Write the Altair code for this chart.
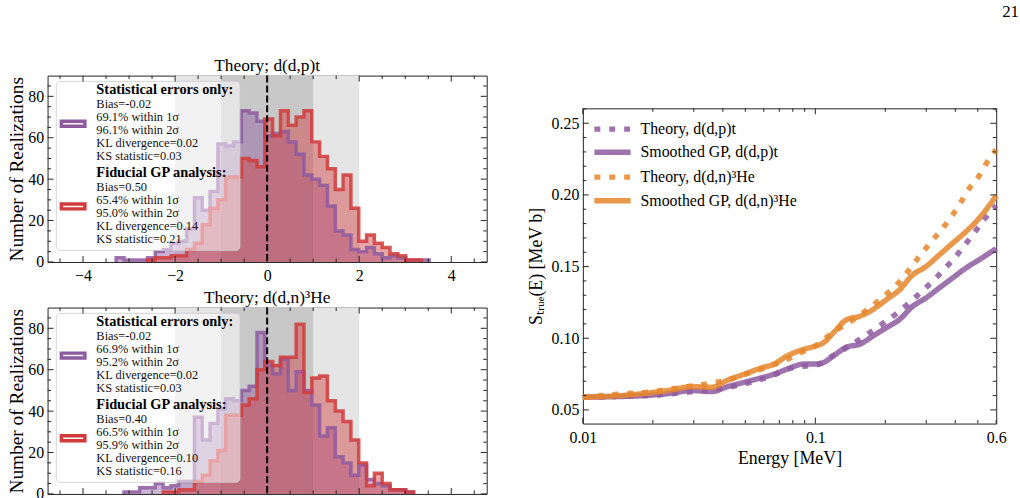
import altair as alt
import pandas as pd

FONT = "Liberation Serif"
PURPLE = "#8e5a9f"
RED = "#d13b3b"
ORANGE = "#e5862c"
FRAME = "#222222"

# ---------------------------------------------------------------------------
# Histograms of (realization - theory) / sigma, shared bin edges
# ---------------------------------------------------------------------------
BIN_START = -3.45
BIN_WIDTH = 0.17

dpt_stat_counts = [0, 2, 1, 1, 1, 2, 5, 6, 9, 10, 16, 31, 25, 34, 57, 56, 58, 73, 72, 68,
                   61, 62, 63, 58, 52, 42, 40, 37, 27, 15, 13, 6, 5, 7, 4, 2, 3, 2, 1, 1, 1]
dpt_fid_counts = [0, 0, 0, 0, 0, 1, 2, 2, 3, 3, 6, 9, 18, 26, 30, 41, 41, 50, 49, 46,
                  69, 61, 73, 66, 70, 73, 58, 51, 45, 35, 42, 26, 10, 13, 9, 7, 4, 3, 1, 1, 0]
ddn_stat_counts = [0, 0, 1, 1, 3, 3, 5, 3, 4, 6, 6, 37, 26, 34, 41, 46, 45, 50, 52, 78,
                   62, 58, 65, 50, 59, 50, 43, 28, 32, 18, 15, 9, 14, 7, 5, 4, 2, 2, 1, 0, 0]
ddn_fid_counts = [0, 0, 0, 0, 0, 0, 0, 1, 1, 2, 2, 6, 9, 16, 21, 38, 38, 43, 46, 60,
                  64, 62, 66, 66, 82, 49, 56, 57, 45, 40, 35, 26, 15, 4, 10, 5, 2, 2, 1, 0, 0]

dpt_stat_text = ["Bias=-0.02", "69.1% within 1σ", "96.1% within 2σ",
                 "KL divergence=0.02", "KS statistic=0.03"]
dpt_fid_text = ["Bias=0.50", "65.4% within 1σ", "95.0% within 2σ",
                "KL divergence=0.14", "KS statistic=0.21"]
ddn_stat_text = ["Bias=-0.02", "66.9% within 1σ", "95.2% within 2σ",
                 "KL divergence=0.02", "KS statistic=0.03"]
ddn_fid_text = ["Bias=0.40", "66.5% within 1σ", "95.9% within 2σ",
                "KL divergence=0.10", "KS statistic=0.16"]
group_headers = ["Statistical errors only:", "Fiducial GP analysis:"]

sigma_halfwidths = [2, 1]

# ---------------------------------------------------------------------------
# S-factor curves
# ---------------------------------------------------------------------------
gp_energy = [0.01, 0.0148, 0.0205, 0.0241, 0.0294, 0.0357, 0.0421, 0.0496, 0.0583,
             0.0665, 0.0757, 0.0892, 0.1, 0.1085, 0.1196, 0.1364, 0.1553, 0.1769,
             0.2016, 0.2299, 0.2619, 0.2985, 0.3401, 0.3877, 0.4418, 0.5034, 0.6]
gp_dpt = [0.0589, 0.0594, 0.0605, 0.0617, 0.0635, 0.0628, 0.0663, 0.0693, 0.0723,
          0.0750, 0.0785, 0.0820, 0.0820, 0.0831, 0.0877, 0.0939, 0.0958, 0.1015,
          0.1073, 0.1130, 0.1222, 0.1280, 0.1349, 0.1418, 0.1487, 0.1545, 0.1625]
gp_ddn = [0.0589, 0.0601, 0.0624, 0.0640, 0.0663, 0.0658, 0.0709, 0.0750, 0.0792,
          0.0820, 0.0877, 0.0923, 0.0946, 0.0969, 0.1038, 0.1130, 0.1153, 0.1200,
          0.1268, 0.1337, 0.1441, 0.1499, 0.1579, 0.1660, 0.1740, 0.1832, 0.1994]

th_dpt_energy = [0.01, 0.0148, 0.0205, 0.0284, 0.0394, 0.0547, 0.0665, 0.0757, 0.0892,
                 0.1016, 0.1196, 0.1364, 0.1553, 0.1769, 0.2016, 0.2299, 0.2619, 0.2891,
                 0.3240, 0.3609, 0.4007, 0.4418, 0.4875, 0.5377, 0.6]
th_dpt = [0.0589, 0.0596, 0.0603, 0.0625, 0.0650, 0.0700, 0.0745, 0.0785, 0.0805,
          0.0815, 0.0880, 0.0935, 0.0992, 0.1054, 0.1119, 0.1188, 0.1268, 0.1331,
          0.1407, 0.1487, 0.1568, 0.1655, 0.1745, 0.1837, 0.1925]

th_ddn_energy = [0.01, 0.0148, 0.0192, 0.0226, 0.0284, 0.0357, 0.0421, 0.0512, 0.0623,
                 0.0757, 0.0863, 0.0984, 0.1121, 0.1278, 0.1456, 0.1687, 0.1891, 0.2120,
                 0.2377, 0.2619, 0.2891, 0.3188, 0.3516, 0.3877, 0.4208, 0.4566, 0.5034,
                 0.5465, 0.6]
th_ddn = [0.0589, 0.0612, 0.0624, 0.0640, 0.0663, 0.0686, 0.0709, 0.0755, 0.0801,
          0.0854, 0.0900, 0.0939, 0.1008, 0.1073, 0.1130, 0.1204, 0.1268, 0.1337,
          0.1418, 0.1510, 0.1598, 0.1683, 0.1763, 0.1855, 0.1943, 0.2040, 0.2127,
          0.2224, 0.2316]

series_names = ["Theory, d(d,p)t", "Smoothed GP, d(d,p)t",
                "Theory, d(d,n)³He", "Smoothed GP, d(d,n)³He"]

# ---------------------------------------------------------------------------
# Layout constants
# ---------------------------------------------------------------------------
HW, HH = 443, 188
RW, RH = 417, 318
Y_MAX = 90
MAJOR, MINOR = 6, 3.5

hx = alt.Scale(domain=[-4.77, 4.77], nice=False, zero=False)
hy = alt.Scale(domain=[0, Y_MAX], nice=False, zero=False)
ex = alt.Scale(type="log", domain=[0.01, 0.6], nice=False)
sy = alt.Scale(domain=[0.0405, 0.2604], nice=False, zero=False)

# one axis definition per channel and panel type; every layer repeats it so that
# the layered axes merge into a single one
HX_AXIS = alt.Axis(values=[-4, -2, 0, 2, 4], ticks=False, domain=False, grid=False,
                   labelPadding=6, labelFlush=False, title="")
HY_AXIS = alt.Axis(values=[0, 20, 40, 60, 80], ticks=False, domain=False, grid=False,
                   labelPadding=4, titlePadding=1, titleFontSize=19.5,
                   title="Number of Realizations")
EX_AXIS = alt.Axis(values=[0.01, 0.1, 0.6], format=".2~f", ticks=False, domain=False,
                   grid=False, labelPadding=6, labelFlush=False, titlePadding=4,
                   title="Energy [MeV]")
SY_AXIS = alt.Axis(values=[0.05, 0.10, 0.15, 0.20, 0.25], format=".2f", ticks=False,
                   domain=False, grid=False, labelPadding=4, titlePadding=6,
                   title="Sₜᵣᵤₑ(E) [MeV b]")


def tick_layers(xs_major, xs_minor, ys_major, ys_minor, xscale, yscale, xaxis, yaxis, w, h):
    layers = []
    for vals, ln in ((xs_major, MAJOR), (xs_minor, MINOR)):
        base = alt.Chart(pd.DataFrame({"t": vals})).mark_rule(color=FRAME, strokeWidth=1)
        xe = alt.X("t:Q", scale=xscale, axis=xaxis)
        layers.append(base.encode(x=xe, y=alt.value(h), y2=alt.value(h - ln)))
        layers.append(base.encode(x=xe, y=alt.value(0), y2=alt.value(ln)))
    for vals, ln in ((ys_major, MAJOR), (ys_minor, MINOR)):
        base = alt.Chart(pd.DataFrame({"t": vals})).mark_rule(color=FRAME, strokeWidth=1)
        ye = alt.Y("t:Q", scale=yscale, axis=yaxis)
        layers.append(base.encode(y=ye, x=alt.value(0), x2=alt.value(ln)))
        layers.append(base.encode(y=ye, x=alt.value(w), x2=alt.value(w - ln)))
    return layers


def step_area(counts):
    edges = [BIN_START + BIN_WIDTH * i for i in range(len(counts) + 1)]
    return pd.DataFrame({"x": edges, "y": list(counts) + [counts[-1]]})


def step_outline(counts):
    nz = [i for i, c in enumerate(counts) if c > 0]
    lo, hi = nz[0], nz[-1]
    pts = [(BIN_START + BIN_WIDTH * lo, 0)]
    for i in range(lo, hi + 1):
        left = BIN_START + BIN_WIDTH * i
        pts += [(left, counts[i]), (left + BIN_WIDTH, counts[i])]
    pts.append((BIN_START + BIN_WIDTH * (hi + 1), 0))
    return pd.DataFrame({"x": [p[0] for p in pts], "y": [p[1] for p in pts],
                         "i": list(range(len(pts)))})


def hx_enc(field):
    return alt.X(field, type="quantitative", scale=hx, axis=HX_AXIS)


def hy_enc(field):
    return alt.Y(field, type="quantitative", scale=hy, axis=HY_AXIS)


def ex_enc(field):
    return alt.X(field, type="quantitative", scale=ex, axis=EX_AXIS)


def sy_enc(field):
    return alt.Y(field, type="quantitative", scale=sy, axis=SY_AXIS)


# legend block geometry (data units of the histogram panels)
LEG_BOX = dict(x0=-4.58, x1=-0.59, y0=5.6, y1=87.2)
TEXT_X = -3.71
HANDLE_X = (-4.47, -3.96)
LINE_Y = [82.8, 76.4, 70.0, 63.6, 57.3, 51.0, 42.8, 36.4, 30.0, 23.7, 17.4, 11.0]


def hist_panel(stat, fid, stat_text, fid_text, title):
    bands = pd.DataFrame({"lo": [-s for s in sigma_halfwidths],
                          "hi": sigma_halfwidths})
    bands["bottom"] = 0
    bands["top"] = Y_MAX
    band_colors = ["#e5e5e5", "#c8c8c8"]

    layers = []
    for k, col in enumerate(band_colors):
        layers.append(alt.Chart(bands.iloc[[k]]).mark_rect(color=col).encode(
            x=hx_enc("lo"), x2="hi:Q", y=hy_enc("bottom"), y2="top:Q"))

    for counts, col in ((stat, PURPLE), (fid, RED)):
        layers.append(alt.Chart(step_area(counts)).mark_area(
            interpolate="step-after", color=col, opacity=0.45
        ).encode(x=hx_enc("x"), y=hy_enc("y")))
    for counts, col in ((stat, PURPLE), (fid, RED)):
        layers.append(alt.Chart(step_outline(counts)).mark_line(
            color=col, strokeWidth=3.5, opacity=0.85, strokeJoin="miter", strokeCap="butt"
        ).encode(x=hx_enc("x"), y=hy_enc("y"), order="i:Q"))

    layers.append(alt.Chart(pd.DataFrame({"x": [0]})).mark_rule(
        color="black", strokeWidth=2, strokeDash=[7, 3]
    ).encode(x=hx_enc("x")))

    # legend frame
    box = pd.DataFrame([LEG_BOX])
    layers.append(alt.Chart(box).mark_rect(
        fill="white", fillOpacity=0.5, stroke="#cccccc", strokeOpacity=0.8,
        strokeWidth=1, cornerRadius=4
    ).encode(x=hx_enc("x0"), x2="x1:Q", y=hy_enc("y0"), y2="y1:Q"))

    # legend handles
    centers = [(LINE_Y[2] + LINE_Y[3]) / 2, (LINE_Y[8] + LINE_Y[9]) / 2]
    for c, col in zip(centers, (PURPLE, RED)):
        h = pd.DataFrame({"x0": [HANDLE_X[0]], "x1": [HANDLE_X[1]],
                          "y0": [c - 1.2], "y1": [c + 1.2]})
        layers.append(alt.Chart(h).mark_rect(fill="white", stroke=col, strokeWidth=3.5)
                      .encode(x=hx_enc("x0"), x2="x1:Q", y=hy_enc("y0"), y2="y1:Q"))

    head = pd.DataFrame({"t": group_headers, "x": TEXT_X, "y": [LINE_Y[0], LINE_Y[6]]})
    layers.append(alt.Chart(head).mark_text(
        align="left", baseline="middle", font=FONT, fontSize=14.5, fontWeight="bold",
        color="black"
    ).encode(x=hx_enc("x"), y=hy_enc("y"), text="t:N"))

    body = pd.DataFrame({"t": stat_text + fid_text, "x": TEXT_X,
                         "y": LINE_Y[1:6] + LINE_Y[7:12]})
    layers.append(alt.Chart(body).mark_text(
        align="left", baseline="middle", font=FONT, fontSize=12.5, color="#111111"
    ).encode(x=hx_enc("x"), y=hy_enc("y"), text="t:N"))

    x_major = [-4, -2, 0, 2, 4]
    x_minor = [v / 2 for v in range(-9, 10) if v % 4 != 0]
    y_major = [0, 20, 40, 60, 80]
    y_minor = [v for v in range(5, 90, 5) if v % 20 != 0]
    layers += tick_layers(x_major, x_minor, y_major, y_minor, hx, hy, HX_AXIS, HY_AXIS,
                          HW, HH)

    return alt.layer(*layers).properties(
        width=HW, height=HH,
        title=alt.TitleParams(title, offset=0, fontSize=17.5, font=FONT,
                              fontWeight="normal", anchor="middle"),
    )


top = hist_panel(dpt_stat_counts, dpt_fid_counts, dpt_stat_text, dpt_fid_text,
                 "Theory; d(d,p)t")
bottom = hist_panel(ddn_stat_counts, ddn_fid_counts, ddn_stat_text, ddn_fid_text,
                    "Theory; d(d,n)³He")
left_col = alt.vconcat(top, bottom, spacing=4)

# ---------------------------------------------------------------------------
# S-factor panel
# ---------------------------------------------------------------------------
frames = []
for name, e, s in ((series_names[0], th_dpt_energy, th_dpt),
                   (series_names[1], gp_energy, gp_dpt),
                   (series_names[2], th_ddn_energy, th_ddn),
                   (series_names[3], gp_energy, gp_ddn)):
    frames.append(pd.DataFrame({"energy": e, "s": s, "series": name}))
curves = pd.concat(frames, ignore_index=True)

color_scale = alt.Scale(domain=series_names, range=[PURPLE, PURPLE, ORANGE, ORANGE])
dash_scale = alt.Scale(domain=series_names, range=[[6, 9], [1, 0], [6, 9], [1, 0]])

curve_layers = []
for name in series_names:
    curve_layers.append(
        alt.Chart(curves).transform_filter(alt.datum.series == name).mark_line(
            strokeWidth=5.5, opacity=0.85, strokeCap="butt", interpolate="monotone"
        ).encode(
            x=ex_enc("energy"),
            y=sy_enc("s"),
            color=alt.Color("series:N", scale=color_scale, legend=None),
            strokeDash=alt.StrokeDash("series:N", scale=dash_scale, legend=None),
        )
    )

# in-panel key: short line samples and labels placed in data space (top-left)
KEY_E = (0.01121, 0.01605)
KEY_TEXT_E = 0.0177
KEY_ROWS = [0.2459, 0.2297, 0.2124, 0.1959]
key_lines = pd.DataFrame({
    "series": [n for n in series_names for _ in range(2)],
    "energy": list(KEY_E) * 4,
    "s": [r for r in KEY_ROWS for _ in range(2)],
})
curve_layers.append(alt.Chart(key_lines).mark_line(strokeWidth=5.5, opacity=0.85,
                                                   strokeCap="butt").encode(
    x=ex_enc("energy"),
    y=sy_enc("s"),
    color=alt.Color("series:N", scale=color_scale, legend=None),
    strokeDash=alt.StrokeDash("series:N", scale=dash_scale, legend=None),
    detail="series:N",
))
key_text = pd.DataFrame({"t": series_names, "energy": KEY_TEXT_E, "s": KEY_ROWS})
curve_layers.append(alt.Chart(key_text).mark_text(
    align="left", baseline="middle", font=FONT, fontSize=16, color="black"
).encode(x=ex_enc("energy"), y=sy_enc("s"), text="t:N"))

e_major = [0.01, 0.1]
e_minor = [k / 100 for k in range(2, 10)] + [k / 10 for k in range(2, 7)]
s_major = [0.05, 0.10, 0.15, 0.20, 0.25]
s_minor = [k / 100 for k in range(5, 27) if k % 5 != 0]
curve_layers += tick_layers(e_major, e_minor, s_major, s_minor, ex, sy, EX_AXIS, SY_AXIS,
                            RW, RH)

right = alt.layer(*curve_layers).properties(width=RW, height=RH)

# spacer above the S-factor panel, carrying the page number
spacer = alt.Chart(pd.DataFrame({"energy": [0.01]})).mark_rule(strokeOpacity=0).encode(
    x=alt.X("energy:Q", scale=ex, axis=None)
).properties(
    width=RW, height=1,
    view=alt.ViewBackground(stroke="transparent"),
    title=alt.TitleParams("21", anchor="end", offset=55, dx=23, fontSize=17,
                          font=FONT, fontWeight="normal"),
)
right_col = alt.vconcat(spacer, right, spacing=30)

chart = alt.hconcat(left_col, right_col, spacing=39).properties(
    padding={"left": 6, "top": 0, "right": 0, "bottom": 0}
).configure_view(
    stroke=FRAME, strokeWidth=1
).configure_axis(
    labelFont=FONT, titleFont=FONT, labelFontSize=16, titleFontSize=18,
    labelColor="black", titleColor="black", titleFontWeight="normal"
).configure_title(
    font=FONT, color="black"
)

chart.save("out.html", embed_options={"renderer": "svg", "actions": False})
